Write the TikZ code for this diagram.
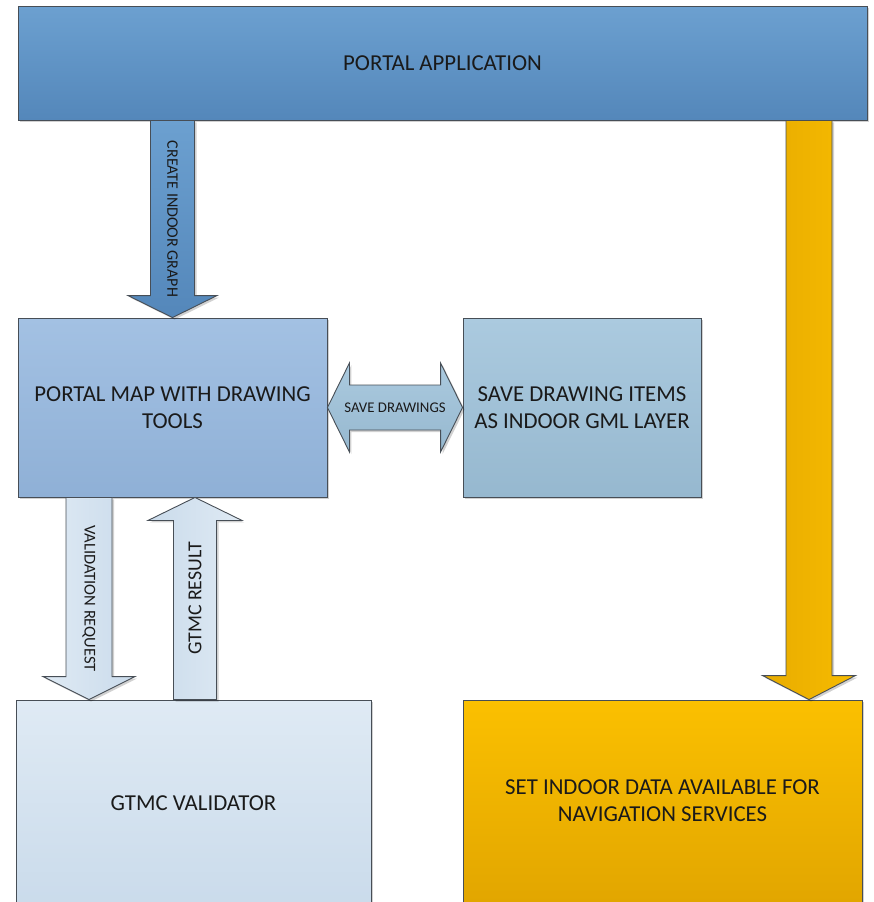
\documentclass[tikz,border=0pt]{standalone}
\usepackage{fontspec}
\setmainfont{Carlito}
\usetikzlibrary{calc,shadows}

\definecolor{edge}{HTML}{474E56}
\definecolor{txt}{HTML}{1A1A1A}
\definecolor{appTop}{HTML}{6CA0D0}
\definecolor{appBot}{HTML}{5487BA}
\definecolor{mapTop}{HTML}{A3C1E3}
\definecolor{mapBot}{HTML}{8FB0D6}
\definecolor{saveTop}{HTML}{ABCADF}
\definecolor{saveBot}{HTML}{96B8CF}
\definecolor{valTop}{HTML}{DFEAF4}
\definecolor{valBot}{HTML}{CADBEB}
\definecolor{setTop}{HTML}{FBC000}
\definecolor{setBot}{HTML}{E2A600}
\definecolor{yelL}{HTML}{E8AC00}
\definecolor{yelR}{HTML}{F7BB00}

\tikzset{
  shad/.style={drop shadow={shadow xshift=2pt,shadow yshift=-2pt,fill=black,opacity=0.18}},
  box/.style={draw=edge, line width=0.9pt, text=txt, align=center, shad,
    font=\fontsize{22.8}{27}\selectfont},
  blk/.style={draw=edge, line width=0.9pt, shad},
  lbl/.style={text=txt, inner sep=0pt, font=\fontsize{14.8}{17}\selectfont}
}

% vertical block arrow: style, from, to, shaft half, head half, head length, label opts, label
\newcommand{\vblockarrow}[8]{%
  \draw[#1] let \p1=(#2), \p2=(#3), \n1={#6*(\y2-\y1)/abs(\y2-\y1)} in
    (\x1-#4,\y1) -- (\x1+#4,\y1) -- (\x1+#4,\y2-\n1) -- (\x1+#5,\y2-\n1)
    -- (\x2,\y2) -- (\x1-#5,\y2-\n1) -- (\x1-#4,\y2-\n1) -- cycle;
  \path let \p1=(#2), \p2=(#3) in (\x1,\y1/2+\y2/2) node[lbl,#7] {#8};}

\begin{document}
\begin{tikzpicture}[x=1pt,y=-1pt]
\useasboundingbox (0,0) rectangle (873,902);
\clip (0,0) rectangle (873,902);

% boxes
\node[box, top color=appTop, bottom color=appBot, minimum width=849pt, minimum height=114pt] (app) at (442.5,63) {PORTAL APPLICATION};
\node[box, top color=mapTop, bottom color=mapBot, minimum width=309pt, minimum height=179pt] (map) at (172.5,407.5) {PORTAL MAP WITH DRAWING\\TOOLS};
\node[box, top color=saveTop, bottom color=saveBot, minimum width=238pt, minimum height=179pt] (save) at (582,407.5) {SAVE DRAWING ITEMS\\AS INDOOR GML LAYER};
\node[box, top color=valTop, bottom color=valBot, minimum width=355pt, minimum height=206pt] (val) at (193.5,803) {GTMC VALIDATOR};
\node[box, top color=setTop, bottom color=setBot, minimum width=399pt, minimum height=202pt] (set) at (662.5,801) {SET INDOOR DATA AVAILABLE FOR\\NAVIGATION SERVICES};

% x positions of the arrows
\coordinate (vx) at (89,0);
\coordinate (gx) at (195,0);
\coordinate (yx) at (809,0);

% block arrows
\vblockarrow{blk, top color=appTop, bottom color=appBot}{map.north |- app.south}{map.north}{22}{44.5}{22}{name=cig, rotate=-90, font=\fontsize{16}{19}\selectfont}{CREATE INDOOR GRAPH}
\vblockarrow{blk, left color=valTop, right color=valBot}{vx |- map.south}{vx |- val.north}{23}{46}{23}{name=vrq, rotate=-90, font=\fontsize{16.5}{19}\selectfont}{VALIDATION REQUEST}
\vblockarrow{blk, left color=valBot, right color=valTop}{gx |- val.north}{gx |- map.south}{21.5}{47}{23}{name=gres, rotate=90, font=\fontsize{19.8}{22}\selectfont}{GTMC RESULT}
\vblockarrow{blk, left color=yelL, right color=yelR}{yx |- app.south}{yx |- set.north}{23}{46.5}{24}{name=yel}{}

% double arrow between map and save
\draw[blk, top color=saveTop, bottom color=saveBot] let \p1=(map.east), \p2=(save.west) in
  (\x1,\y1) -- (\x1+22,\y1+44.5) -- (\x1+22,\y1+22.5) -- (\x2-22,\y1+22.5) -- (\x2-22,\y1+44.5)
  -- (\x2,\y1) -- (\x2-22,\y1-44.5) -- (\x2-22,\y1-22.5) -- (\x1+22,\y1-22.5) -- (\x1+22,\y1-44.5) -- cycle;
\node[lbl] (sdl) at ($(map.east)!0.5!(save.west)$) {SAVE DRAWINGS};
\end{tikzpicture}
\end{document}
